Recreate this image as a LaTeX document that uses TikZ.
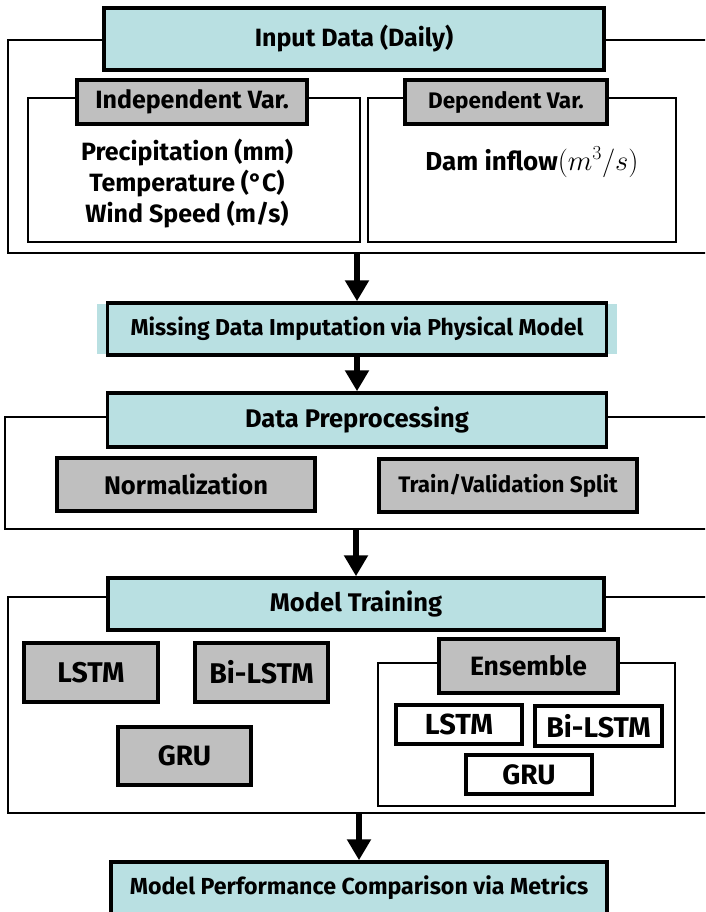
\documentclass[tikz,border=0pt]{standalone}
\usepackage{fontspec}
\setmainfont{Fira Sans}
\usetikzlibrary{arrows.meta,positioning}
\definecolor{Teal1}{RGB}{185,224,226}
\definecolor{Gray1}{RGB}{191,191,191}
\tikzset{
  fs/.style={font=\fontsize{#1}{30}\selectfont\bfseries},
  stage/.style={draw, line width=3.5pt, fill=Teal1, inner sep=0pt, fs=25},
  group/.style={draw, line width=1.3pt, inner sep=0pt},
  part/.style={draw, line width=3.5pt, fill=Gray1, inner sep=0pt, fs=25},
  member/.style={draw, line width=3.5pt, fill=white, inner sep=0pt, fs=28},
  flow/.style={line width=6pt, -{Triangle[width=23pt,length=21pt]}},
}

\begin{document}
\begin{tikzpicture}[x=1pt,y=-1pt]
\clip (0,0) rectangle (705,912);
%input data
\node[group, minimum width=712, minimum height=213] (inbox) at (364,146.5) {};
\node[group, minimum width=332, minimum height=144] (indbox) at (194,170) {};
\node[group, minimum width=308, minimum height=144] (depbox) at (522,170) {};
\node[stage, minimum width=500, minimum height=62] (input) at (354,39) {Input Data (Daily)};
\node[part, minimum width=230, minimum height=44] (ind) at (192,102) {Independent Var.};
\node[part, minimum width=202, minimum height=44, fs=22.5] (dep) at (506,102) {Dependent Var.};
\node[fs=25, align=center] (indvars) at (187,184) {Precipitation (mm)\\[1pt]Temperature (°C)\\[1pt]Wind Speed (m/s)};
\node[fs=26] (inflow) at (532,162) {Dam inflow\scalebox{1.15}{$(m^3/s)$}};
%imputation
\fill[Teal1] (97,304) rectangle (617,354);
\node[stage, minimum width=499, minimum height=52, fs=23] (miss) at (357,329) {Missing Data Imputation via Physical Model};
%preprocessing
\node[group, minimum width=715, minimum height=112] (prebox) at (362.5,473) {};
\node[stage, minimum width=499, minimum height=54, fs=25.5] (prep) at (357,420) {Data Preprocessing};
\node[part, minimum width=258, minimum height=53, fs=25.5] (norm) at (186,484.5) {Normalization};
\node[part, minimum width=258, minimum height=53, fs=22.4] (split) at (508,485.5) {Train/Validation Split};
%training
\node[group, minimum width=712, minimum height=216] (trainbox) at (364,705) {};
\node[group, minimum width=297, minimum height=143] (ensbox) at (526.5,734.5) {};
\node[stage, minimum width=496, minimum height=52, fs=25.5] (train) at (356,604) {Model Training};
\node[part, minimum width=134, minimum height=59, fs=28.5] (lstm) at (91,672.5) {LSTM};
\node[part, minimum width=133, minimum height=59, fs=28.5] (bilstm) at (261.5,672.5) {Bi-LSTM};
\node[part, minimum width=133, minimum height=58, fs=28] (gru) at (184.5,756) {GRU};
\node[part, minimum width=179, minimum height=54, fs=26.5] (ens) at (528.5,666) {Ensemble};
\node[member, minimum width=126, minimum height=39, fs=29] (elstm) at (459,724.5) {LSTM};
\node[member, minimum width=127, minimum height=40, fs=28.5] (ebilstm) at (598.5,726) {Bi-LSTM};
\node[member, minimum width=126, minimum height=39] (egru) at (529,774.5) {GRU};
%comparison
\node[stage, minimum width=496, minimum height=52, fs=23.2] (perf) at (359,888) {Model Performance Comparison via Metrics};
%arrows
\draw[flow] (miss.north |- inbox.south) -- (miss.north);
\draw[flow] (miss.south) -- (prep.north);
\draw[flow] (train.north |- prebox.south) -- (train.north);
\draw[flow] (perf.north |- trainbox.south) -- (perf.north);
\end{tikzpicture}
\end{document}
